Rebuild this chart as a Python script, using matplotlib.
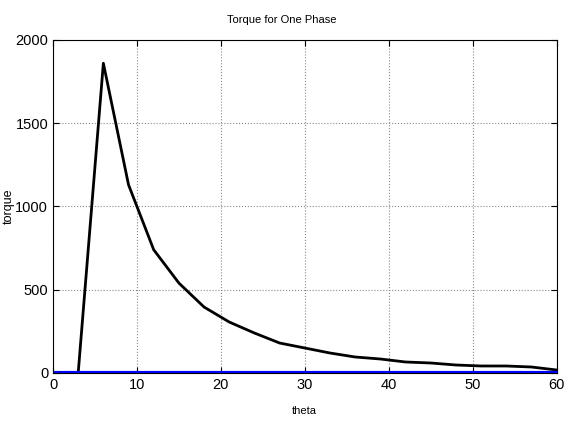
import matplotlib.pyplot as plt
import numpy as np

# данные
theta = [0, 3, 6, 9, 12, 15, 18, 21, 24, 27, 30, 33, 36, 39, 42, 45, 48, 51, 54, 57, 60]
torque = [0, 0, 1860, 1130, 740, 540, 396, 306, 240, 180, 150, 120, 96, 84, 66, 60, 48, 42, 42, 36, 18]
torque_zero = [0] * len(theta)

x_ticks = [0, 10, 20, 30, 40, 50, 60]
y_ticks = [0, 500, 1000, 1500, 2000]

plt.rcParams['font.family'] = ['Liberation Sans', 'DejaVu Sans']

fig = plt.figure(figsize=(5.67, 4.25), dpi=100)
ax = fig.add_axes([0.0935, 0.1224, 0.888, 0.7836])

ax.plot(theta, torque, color='black', linewidth=2)
ax.plot(theta, torque_zero, color='blue', linewidth=3)

ax.set_xlim(0, 60)
ax.set_ylim(0, 2000)
ax.set_xticks(x_ticks)
ax.set_yticks(y_ticks)
ax.tick_params(direction='in', top=True, right=True, labelsize=10.5, length=4)
ax.grid(True, color='#888888', linestyle=':', linewidth=0.8)

ax.set_title('Torque for One Phase', fontsize=8, pad=12, x=0.455)
ax.set_xlabel('theta', fontsize=8, labelpad=10)
ax.set_ylabel('torque', fontsize=9)
ax.yaxis.set_label_coords(-0.075, 0.5)

fig.savefig('out.png', dpi=100)
